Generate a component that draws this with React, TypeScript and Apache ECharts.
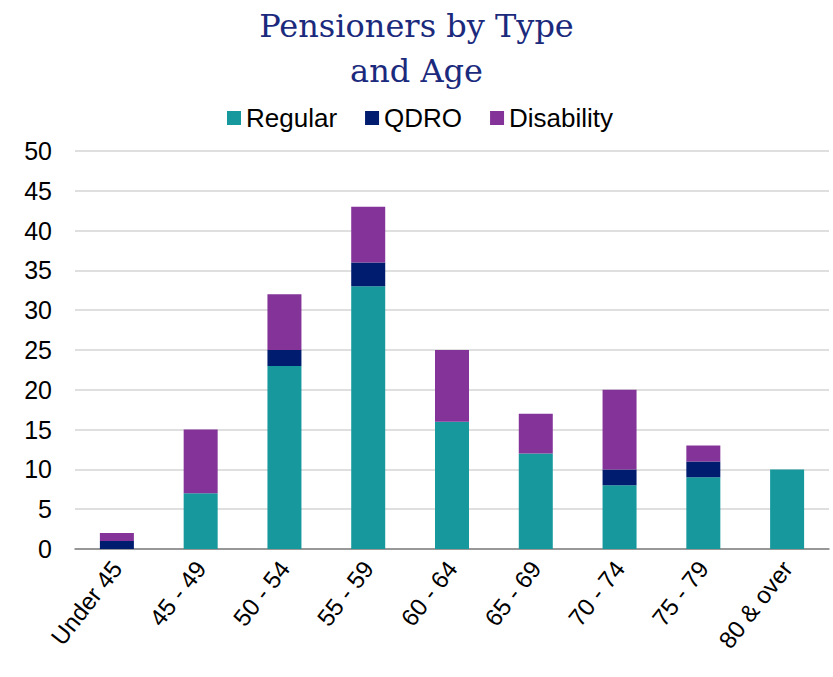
import React, { useEffect, useRef } from "react";
import * as echarts from "echarts";

const categories = ["Under 45", "45 - 49", "50 - 54", "55 - 59", "60 - 64", "65 - 69", "70 - 74", "75 - 79", "80 & over"];
const regular = [0, 7, 23, 33, 16, 12, 8, 9, 10];
const qdro = [1, 0, 2, 3, 0, 0, 2, 2, 0];
const disability = [1, 8, 7, 7, 9, 5, 10, 2, 0];

export default function App() {
  const ref = useRef<HTMLDivElement>(null);
  useEffect(() => {
    document.body.style.margin = "0";
    const chart = echarts.init(ref.current!, null, { renderer: "svg" });
    const mk = (name: string, data: number[], color: string) => ({
      name,
      type: "bar",
      stack: "total",
      data,
      barWidth: 34,
      itemStyle: { color },
    });
    const sans = "'Liberation Sans', Arial, sans-serif";
    chart.setOption({
      animation: false,
      title: {
        text: "Pensioners by Type\nand Age",
        left: "center",
        top: -2,
        textStyle: {
          fontFamily: "'DejaVu Serif', 'Liberation Serif', serif",
          fontSize: 32,
          fontWeight: "normal",
          color: "#1B2A7C",
          lineHeight: 45,
        },
      },
      legend: {
        top: 100,
        left: 222,
        itemWidth: 14,
        itemHeight: 14,
        itemGap: 28,
        icon: "rect",
        textStyle: { fontFamily: sans, fontSize: 26, color: "#000" },
        data: ["Regular", "QDRO", "Disability"],
      },
      grid: { left: 75, right: 4, top: 151, bottom: 128 },
      xAxis: {
        type: "category",
        data: categories,
        axisTick: { show: false },
        axisLine: { lineStyle: { color: "#808080", width: 1.5 } },
        axisLabel: {
          rotate: 52,
          fontSize: 24,
          color: "#000",
          fontFamily: sans,
          margin: 15,
          interval: 0,
        },
      },
      yAxis: {
        type: "value",
        min: 0,
        max: 50,
        interval: 5,
        axisLabel: {
          fontSize: 25,
          color: "#000",
          fontFamily: sans,
          margin: 23,
        },
        splitLine: { lineStyle: { color: "#d4d4d4", width: 1.5 } },
      },
      series: [
        mk("Regular", regular, "#17989D"),
        mk("QDRO", qdro, "#001C6F"),
        mk("Disability", disability, "#843398"),
      ],
    });
    return () => chart.dispose();
  }, []);
  return <div ref={ref} style={{ width: 833, height: 677 }} />;
}
